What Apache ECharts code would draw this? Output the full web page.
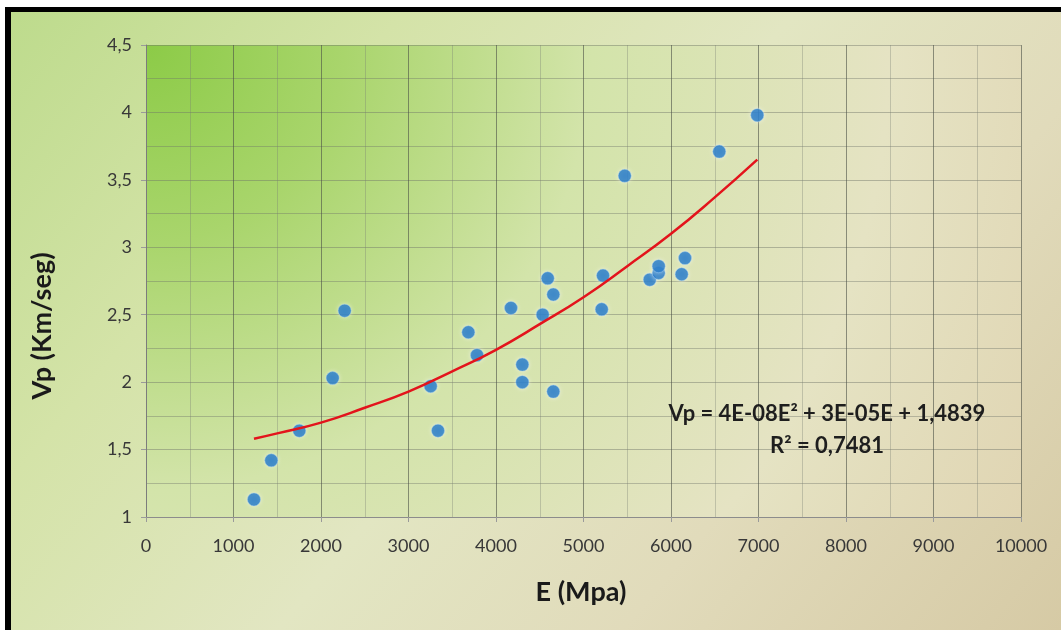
<!DOCTYPE html>
<html><head><meta charset="utf-8">
<script src="https://cdn.jsdelivr.net/npm/echarts@6/dist/echarts.min.js"></script>
<style>
html,body{margin:0;padding:0;background:#fff;}
#bg{position:absolute;left:5px;top:7px;width:1050px;height:618px;border-left:6px solid #000;border-top:5px solid #000;
background:linear-gradient(130deg,#bddb8c 0%,#d4e3a8 25%,#e2e6c2 50%,#e1dbbb 72%,#d6caa5 100%);}
#chart{position:absolute;left:0;top:0;width:1061px;height:630px;}
</style></head><body>
<div id="bg"></div><div id="chart"></div>
<script>
// Measured data points (E in MPa, Vp in km/s)
const E_values  = [1234, 1432, 1752, 2133, 2270, 3253, 3337, 3684, 3783, 4171, 4301, 4301, 4533, 4591, 4655, 4655, 5208, 5223, 5471, 5757, 5859, 5859, 6122, 6160, 6552, 6986];
const Vp_values = [1.13, 1.42, 1.64, 2.03, 2.53, 1.97, 1.64, 2.37, 2.20, 2.55, 2.13, 2.00, 2.50, 2.77, 2.65, 1.93, 2.54, 2.79, 3.53, 2.76, 2.81, 2.86, 2.80, 2.92, 3.71, 3.98];
// Trend line
const trendE  = [1234, 1500, 2000, 2500, 3000, 3500, 4000, 4500, 5000, 5500, 6000, 6500, 6986];
const trendVp = [1.58, 1.62, 1.70, 1.81, 1.93, 2.08, 2.24, 2.43, 2.63, 2.86, 3.10, 3.37, 3.65];
const xTickLabels = ['0','1000','2000','3000','4000','5000','6000','7000','8000','9000','10000'];
const yTickLabels = ['1','1,5','2','2,5','3','3,5','4','4,5'];
const xAxisTitle = 'E (Mpa)';
const yAxisTitle = 'Vp (Km/seg)';
const equationText = 'Vp = 4E-08E² + 3E-05E + 1,4839';
const r2Text = 'R² = 0,7481';

const FONT = 'Lato, "Open Sans", sans-serif';
const chart = echarts.init(document.getElementById('chart'), null, {renderer: 'canvas'});
const scatterData = E_values.map((e, i) => [e, Vp_values[i]]);
const trendData = trendE.map((e, i) => [e, trendVp[i]]);

chart.setOption({
  animation: false,
  backgroundColor: 'transparent',
  grid: {
    left: 146, top: 45, right: 40, bottom: 113,
    show: true, borderWidth: 0,
    backgroundColor: new echarts.graphic.RadialGradient(0, 0, 2.1, [
      {offset: 0, color: '#8ccb47'},
      {offset: 0.2, color: '#a9d56c'},
      {offset: 0.45, color: '#d3e4aa'},
      {offset: 0.75, color: '#e5e3c3'},
      {offset: 1, color: '#e0d5b3'}
    ])
  },
  xAxis: {
    type: 'value', min: 0, max: 10000, interval: 1000,
    axisLine: {show: true, lineStyle: {color: '#8c8c8c', width: 1}},
    axisTick: {show: true, inside: false, length: 5, lineStyle: {color: '#9a9a9a'}},
    axisLabel: {
      margin: 20, fontFamily: FONT, fontSize: 18, color: '#383838',
      formatter: (v) => xTickLabels[Math.round(v / 1000)]
    },
    splitLine: {show: true, lineStyle: {color: 'rgba(75,80,70,0.6)', width: 1}},
    minorTick: {show: false, splitNumber: 2},
    minorSplitLine: {show: true, lineStyle: {color: 'rgba(120,125,115,0.35)', width: 1}}
  },
  yAxis: {
    type: 'value', min: 1, max: 4.5, interval: 0.5,
    axisLine: {show: true, lineStyle: {color: '#7c7c7c', width: 1}},
    axisTick: {show: true, inside: false, length: 5, lineStyle: {color: '#9a9a9a'}},
    axisLabel: {
      margin: 14, fontFamily: FONT, fontSize: 18, color: '#383838',
      formatter: (v) => yTickLabels[Math.round((v - 1) / 0.5)]
    },
    splitLine: {show: true, lineStyle: {color: 'rgba(110,115,105,0.45)', width: 1}},
    minorTick: {show: false, splitNumber: 2},
    minorSplitLine: {show: true, lineStyle: {color: 'rgba(110,115,105,0.4)', width: 1}}
  },
  series: [
    {
      type: 'scatter', data: scatterData, symbolSize: 13, z: 3,
      itemStyle: {color: '#1570c6', borderColor: 'rgba(160,205,245,0.55)', borderWidth: 1,
        shadowBlur: 4, shadowColor: 'rgba(255,255,255,0.6)'}
    },
    {
      type: 'line', data: trendData, smooth: true, showSymbol: false, z: 4,
      lineStyle: {color: '#e3141c', width: 2.5}
    }
  ],
  graphic: [
    {type: 'text', x: 581, y: 592, style: {text: xAxisTitle, font: 'bold 27px ' + FONT, fill: '#1a1a1a', align: 'center', verticalAlign: 'middle'}},
    {type: 'text', x: 42, y: 326, rotation: Math.PI / 2, style: {text: yAxisTitle, font: 'bold 27px ' + FONT, fill: '#1a1a1a', align: 'center', verticalAlign: 'middle'}},
    {type: 'text', x: 827, y: 414, z: 10, style: {text: equationText, font: 'bold 22px ' + FONT, fill: '#1e1e1e', align: 'center', verticalAlign: 'middle'}},
    {type: 'text', x: 827, y: 446, z: 10, style: {text: r2Text, font: 'bold 22px ' + FONT, fill: '#1e1e1e', align: 'center', verticalAlign: 'middle'}}
  ]
});
</script>
</body></html>
